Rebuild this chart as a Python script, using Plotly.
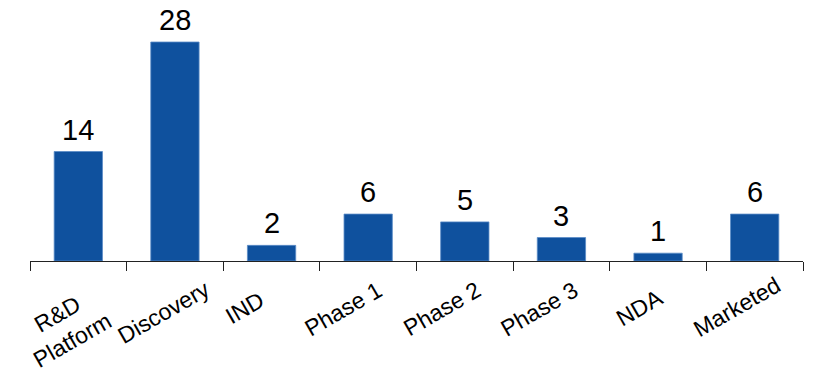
import plotly.graph_objects as go

categories = ["R&D<br>Platform", "Discovery", "IND", "Phase 1", "Phase 2", "Phase 3", "NDA", "Marketed"]
values = [14, 28, 2, 6, 5, 3, 1, 6]

BAR = "#0F519E"
FONT = "Arial, Liberation Sans, sans-serif"
# style: pixel nudges of the rotated category labels (x, y) from each category centre
LABEL_DX = [-13, -11, -27, -25, -23, -22, -19, -18]
LABEL_DY = [-66, -51, -47, -48, -48, -48, -47, -46]

x_idx = list(range(len(categories)))
boundaries = [i - 0.5 for i in range(len(categories) + 1)]

fig = go.Figure(go.Bar(
    x=x_idx, y=values, width=0.5,
    marker=dict(color=BAR, line=dict(color="#5B8BC6", width=0.8)),
    cliponaxis=False,
))

annotations = []
for i, (c, v) in enumerate(zip(categories, values)):
    annotations.append(dict(
        x=i, y=0, xref="x", yref="y", text=c, showarrow=False,
        textangle=-30, xanchor="center", yanchor="middle",
        xshift=LABEL_DX[i], yshift=LABEL_DY[i],
        font=dict(size=23, color="black", family=FONT),
    ))
    annotations.append(dict(
        x=i, y=v, xref="x", yref="y", text=str(v), showarrow=False,
        xanchor="center", yanchor="bottom", yshift=5, borderpad=0,
        font=dict(size=29, color="black", family=FONT),
    ))

# page body has an 8px margin, so the figure is drawn 8px in from the corner
fig.update_layout(
    template="none",
    width=812, height=360,
    margin=dict(l=22, r=17, t=0, b=107, pad=0),
    paper_bgcolor="white", plot_bgcolor="white",
    showlegend=False,
    annotations=annotations,
    xaxis=dict(range=[-0.5, 7.5], tickmode="array", tickvals=boundaries,
               ticktext=[""] * len(boundaries), automargin=False,
               ticks="outside", ticklen=9, tickwidth=1.3, tickcolor="#222",
               showline=True, linecolor="#222", linewidth=1.3,
               showgrid=False, zeroline=False, showticklabels=False),
    yaxis=dict(range=[0, 32.35], visible=False, showgrid=False, zeroline=False,
               automargin=False),
)

fig.write_html("out.html")
